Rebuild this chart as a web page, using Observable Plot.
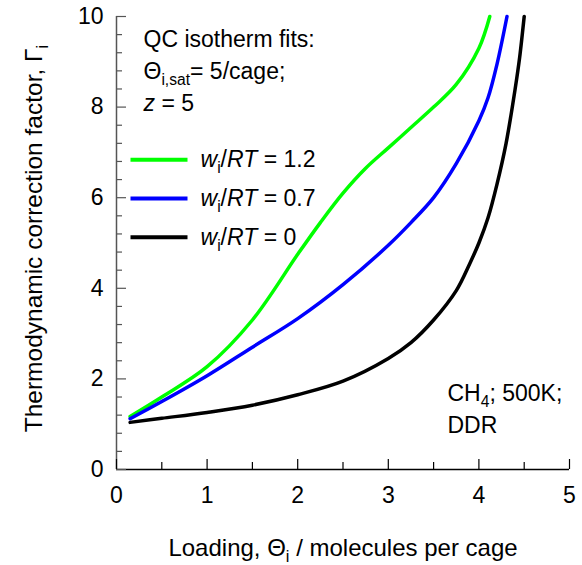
<!DOCTYPE html>
<html>
<head>
<meta charset="utf-8">
<script src="https://cdn.jsdelivr.net/npm/d3@7"></script>
<script src="https://cdn.jsdelivr.net/npm/@observablehq/plot@0.6"></script>
<style>
  html, body { margin: 0; padding: 0; background: #fff; }
  #chart svg { display: block; }
</style>
</head>
<body>
<div id="chart"></div>
<script>
// ---- data ----
const seriesNames = ["1.2", "0.7", "0"];
const seriesColors = ["#00ff00", "#0000ff", "#000000"];

const greenX = [0.15, 0.5, 1.0, 1.5, 2.0, 2.25, 2.5, 2.75, 3.0, 3.25, 3.5, 3.75, 4.0, 4.12];
const greenY = [1.17, 1.6, 2.27, 3.3, 4.75, 5.45, 6.1, 6.65, 7.1, 7.55, 8.0, 8.5, 9.3, 10.0];

const blueX = [0.15, 0.5, 1.0, 1.5, 2.0, 2.5, 3.0, 3.25, 3.5, 3.75, 4.0, 4.1, 4.2, 4.31];
const blueY = [1.12, 1.5, 2.07, 2.7, 3.33, 4.08, 4.95, 5.45, 6.0, 6.75, 7.7, 8.2, 8.95, 10.0];

const blackX = [0.15, 0.5, 1.0, 1.5, 2.0, 2.5, 3.0, 3.25, 3.5, 3.75, 3.9, 4.0, 4.1, 4.2, 4.3, 4.4, 4.45, 4.5];
const blackY = [1.04, 1.13, 1.26, 1.42, 1.65, 1.95, 2.45, 2.8, 3.3, 3.95, 4.55, 5.0, 5.55, 6.3, 7.2, 8.4, 9.1, 10.0];

const xMajor = [0, 1, 2, 3, 4, 5];
const xMinor = [0.5, 1.5, 2.5, 3.5, 4.5];
const yMajor = [0, 2, 4, 6, 8, 10];
const yMinor = [0.4, 0.8, 1.2, 1.6, 2.4, 2.8, 3.2, 3.6, 4.4, 4.8, 5.2, 5.6, 6.4, 6.8, 7.2, 7.6, 8.4, 8.8, 9.2, 9.6];

const xLabel = "Loading, Θ_{i} / molecules per cage";
const yLabel = "Thermodynamic correction factor, Γ_{i}";
const noteTop = ["QC isotherm fits:", "Θ_{i,sat}= 5/cage;", "*z* = 5"];
const noteBottom = ["CH_{4}; 500K;", "DDR"];
const legendLabels = seriesNames.map(v => `*w*_{i}/*RT* = ${v}`);

// ---- build table ----
const rows = [];
[[greenX, greenY], [blueX, blueY], [blackX, blackY]].forEach(([xs, ys], k) => {
  xs.forEach((x, i) => rows.push({series: seriesNames[k], x, y: ys[i]}));
});

// ---- layout ----
const W = 582, H = 565;
const mL = 116, mR = 13, mT = 16, mB = 96;
const fw = W - mL - mR, fh = H - mT - mB;
const FS = 23;

const hline = {draw(ctx) { ctx.moveTo(-28.5, 0); ctx.lineTo(28.5, 0); }};
const T = {fontSize: FS, lineAnchor: "middle"};

const marks = [
  // curves
  Plot.line(rows, {x: "x", y: "y", z: "series", stroke: "series", strokeWidth: 3.5, curve: "catmull-rom"}),
  // axis lines
  Plot.ruleX([0], {stroke: "#555", strokeWidth: 1.5}),
  Plot.ruleY([0], {stroke: "#000", strokeWidth: 1.5}),
  // inward ticks
  Plot.tickX(xMajor, {x: d => d, insetTop: fh - 10, stroke: "#000", strokeWidth: 1.2}),
  Plot.tickX(xMinor, {x: d => d, insetTop: fh - 7, stroke: "#000", strokeWidth: 1.2}),
  Plot.tickY(yMajor, {y: d => d, insetRight: fw - 10, stroke: "#555", strokeWidth: 1.2}),
  Plot.tickY(yMinor, {y: d => d, insetRight: fw - 6, stroke: "#555", strokeWidth: 1.2}),
  // tick labels
  Plot.text(xMajor, {...T, x: d => d, frameAnchor: "bottom", dy: 26, textAnchor: "middle", text: d => String(d)}),
  Plot.text(yMajor, {...T, y: d => d, frameAnchor: "left", dx: -13, textAnchor: "end", text: d => String(d)}),
  // axis titles
  Plot.text([xLabel], {...T, fontSize: 24, frameAnchor: "bottom", dy: 79, textAnchor: "middle", text: d => d}),
  Plot.text([yLabel], {...T, fontSize: 24.5, frameAnchor: "left", dx: -82.5, dy: -4.5, rotate: -90, textAnchor: "middle", text: d => d}),
];

// notes
noteTop.forEach((t, i) => marks.push(
  Plot.text([t], {...T, frameAnchor: "top-left", dx: 27, dy: 23 + 32 * i, textAnchor: "start", text: d => d})
));
noteBottom.forEach((t, i) => marks.push(
  Plot.text([t], {...T, frameAnchor: "top-left", dx: 331, dy: 377 + 32.5 * i, textAnchor: "start", text: d => d})
));
// legend
legendLabels.forEach((t, i) => {
  const dy = 143.3 + 38.7 * i;
  marks.push(Plot.dot([seriesNames[i]], {frameAnchor: "top-left", dx: 42.5, dy, symbol: hline, stroke: seriesColors[i], strokeWidth: 4, fill: "none", r: 1}));
  marks.push(Plot.text([t], {...T, frameAnchor: "top-left", dx: 84, dy, textAnchor: "start", text: d => d}));
});

const chart = Plot.plot({
  width: W, height: H,
  marginLeft: mL, marginRight: mR, marginTop: mT, marginBottom: mB,
  style: {fontFamily: "'Liberation Sans', Arial, sans-serif", color: "#000", background: "#fff"},
  x: {domain: [0, 5], axis: null},
  y: {domain: [0, 10], axis: null},
  color: {domain: seriesNames, range: seriesColors},
  marks
});

// rich text: _{..} subscript, *..* italic
const NS = "http://www.w3.org/2000/svg";
const re = /_\{([^}]*)\}|\*([^*]+)\*|([^_*]+)/g;
chart.querySelectorAll("text").forEach(t => {
  const s = t.textContent;
  if (!/_\{|\*/.test(s)) return;
  t.textContent = "";
  let pending = 0;
  const shift = 6;
  for (const m of s.matchAll(re)) {
    const ts = document.createElementNS(NS, "tspan");
    if (m[1] !== undefined) {
      ts.textContent = m[1];
      ts.setAttribute("font-size", "0.68em");
      ts.setAttribute("dy", shift + pending);
      pending = -shift;
    } else {
      ts.textContent = m[2] !== undefined ? m[2] : m[3];
      if (m[2] !== undefined) ts.setAttribute("font-style", "italic");
      if (pending) { ts.setAttribute("dy", pending); pending = 0; }
    }
    t.appendChild(ts);
  }
});

document.getElementById("chart").appendChild(chart);
</script>
</body>
</html>
